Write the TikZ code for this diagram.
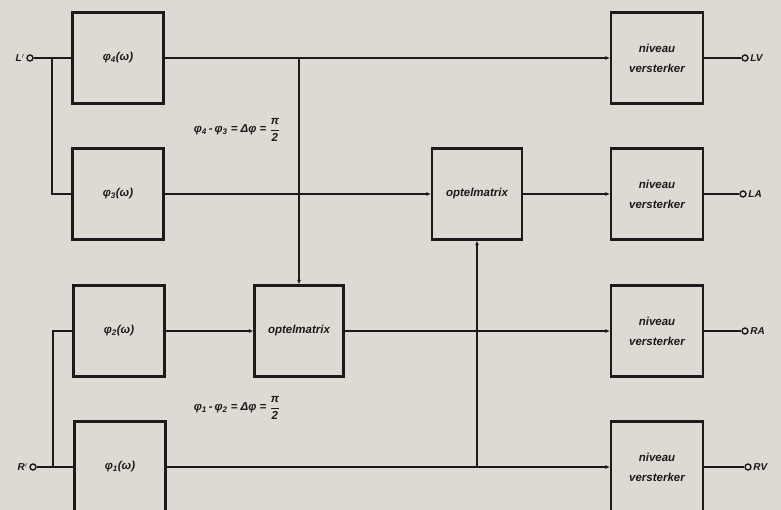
\documentclass[tikz,border=0pt]{standalone}
\usepackage{amsmath}
\usepackage{fontspec}
\setmainfont{Liberation Sans}
\usetikzlibrary{arrows.meta}
\definecolor{paper}{RGB}{222,218,211}
\definecolor{ink}{RGB}{28,26,26}
\newcommand{\bi}[1]{\textbf{\textit{#1}}}
\newcommand{\phaserel}[2]{φ\textsubscript{#1}\,-\,φ\textsubscript{#2} = Δφ = $\dfrac{\bi{π}}{\bi{2}}$}
\begin{document}
\begin{tikzpicture}[x=1pt,y=-1pt,
  blk/.style={draw=ink,line width=2.2pt,minimum width=91pt,minimum height=91pt,
    inner sep=0pt,align=center,text=ink,font=\fontsize{11.5}{20}\selectfont\bfseries\itshape},
  wire/.style={draw=ink,line width=2pt},
  feed/.style={wire,-{Latex[length=4.5pt,width=4pt]}},
  term/.style={circle,draw=ink,line width=1.4pt,fill=paper,minimum size=6pt,inner sep=0pt},
  lbl/.style={font=\fontsize{10}{12}\selectfont\bfseries\itshape,text=ink,inner sep=1.5pt},
  rel/.style={font=\fontsize{11.5}{14}\selectfont\bfseries\itshape,text=ink,inner sep=1pt}]
\fill[paper] (0,0) rectangle (781,510);
\clip (0,0) rectangle (781,510);

% phase networks
\node[blk] (f4) at (118,58)  {φ\textsubscript{4}(ω)};
\node[blk] (f3) at (118,194) {φ\textsubscript{3}(ω)};
\node[blk] (f2) at (119,331) {φ\textsubscript{2}(ω)};
\node[blk] (f1) at (120,467) {φ\textsubscript{1}(ω)};

% adding matrices
\node[blk,minimum width=89pt] (m2) at (299,331) {optelmatrix};
\node[blk,minimum width=90pt] (m1) at (477,194) {optelmatrix};

% level amplifiers
\node[blk,minimum width=92pt] (n1) at (657,58)  {niveau\\versterker};
\node[blk,minimum width=92pt] (n2) at (657,194) {niveau\\versterker};
\node[blk,minimum width=92pt] (n3) at (657,331) {niveau\\versterker};
\node[blk,minimum width=92pt] (n4) at (657,467) {niveau\\versterker};

% input terminals
\node[term] (iL) at (30,58) {};
\node[term] (iR) at (33,467) {};
\node[lbl,anchor=east] (tL) at (iL.west) {L$'$};
\node[lbl,anchor=east] (tR) at (iR.west) {R$'$};
\coordinate (jL) at (52,58);
\coordinate (jR) at (53,467);

% output terminals
\node[term] (oLV) at (745,58) {};
\node[term] (oLA) at (743,194) {};
\node[term] (oRA) at (745,331) {};
\node[term] (oRV) at (748,467) {};
\node[lbl,anchor=west] (tLV) at (oLV.east) {LV};
\node[lbl,anchor=west] (tLA) at (oLA.east) {LA};
\node[lbl,anchor=west] (tRA) at (oRA.east) {RA};
\node[lbl,anchor=west] (tRV) at (oRV.east) {RV};

% branch points
\coordinate (t4) at (299,58);
\coordinate (t1) at (477,467);

% inputs to the phase networks
\draw[wire] (iL) -- (f4.west);
\draw[wire] (jL) |- (f3.west);
\draw[wire] (iR) -- (f1.west);
\draw[wire] (jR) |- (f2.west);

% signal paths
\draw[feed] (f4.east) -- (n1.west);
\draw[feed] (t4) -- (m2.north);
\draw[feed] (f3.east) -- (m1.west);
\draw[feed] (f2.east) -- (m2.west);
\draw[feed] (m2.east) -- (n3.west);
\draw[feed] (m1.east) -- (n2.west);
\draw[feed] (f1.east) -- (n4.west);
\draw[feed] (t1) -- (m1.south);

% outputs
\draw[wire] (n1.east) -- (oLV);
\draw[wire] (n2.east) -- (oLA);
\draw[wire] (n3.east) -- (oRA);
\draw[wire] (n4.east) -- (oRV);

% phase relations
\node[rel] (r43) at (237,130) {\phaserel{4}{3}};
\node[rel] (r12) at (237,408) {\phaserel{1}{2}};
\end{tikzpicture}
\end{document}
